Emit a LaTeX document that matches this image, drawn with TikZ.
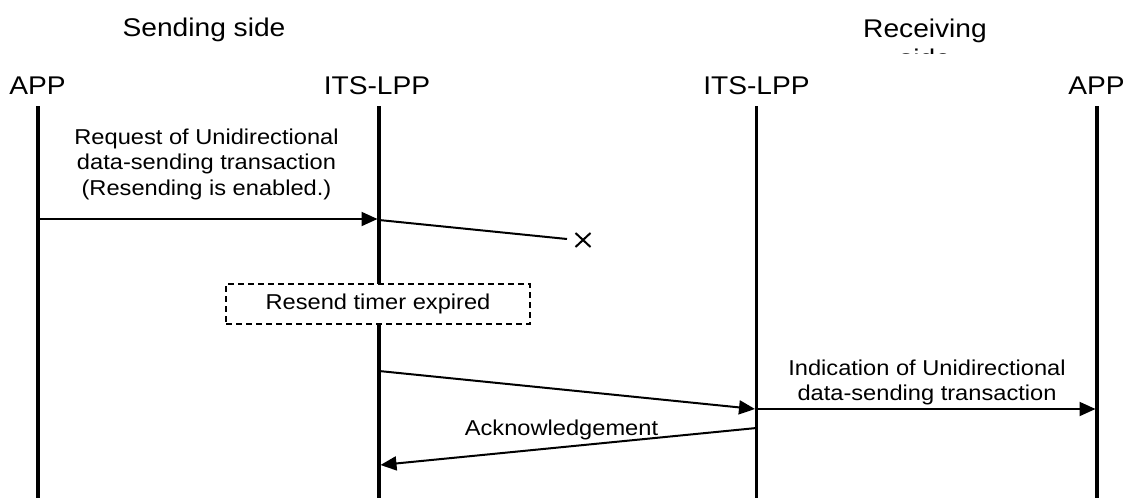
\documentclass[tikz,border=0pt]{standalone}
\usepackage{fontspec}
\setmainfont{Liberation Sans}[FakeStretch=1.1]
\usetikzlibrary{arrows.meta}
\begin{document}
\begin{tikzpicture}[x=1pt,y=-1pt,
  lifeline/.style={line width=3.8pt},
  msg/.style={line width=2pt,-{Triangle[length=16pt,width=14pt]}},
  lostline/.style={line width=2pt},
  hdr/.style={font=\fontsize{25.6}{30}\selectfont,inner sep=0pt,anchor=base},
  lbl/.style={font=\fontsize{21.5}{25.5}\selectfont,inner sep=0pt,align=center,anchor=base},
  timerbox/.style={draw,line width=1.5pt,dash pattern=on 6pt off 4pt,fill=white,
    minimum width=304pt,minimum height=40pt,inner sep=0pt,
    font=\fontsize{21.5}{25.5}\selectfont}
]
\useasboundingbox (0,0) rectangle (1130,498);

% headers
\node[hdr] (send) at (204,36) {Sending side};
\begin{scope}
  \clip (800,0) rectangle (1060,53);
  \node[hdr,align=center] (recv) at (925,67.5) {Receiving\\side};
\end{scope}
\node[hdr] (appL) at (37.5,94) {APP};
\node[hdr] (lppS) at (377,94) {ITS-LPP};
\node[hdr] (lppR) at (756.5,94) {ITS-LPP};
\node[hdr] (appR) at (1096.5,94) {APP};

% lifelines
\coordinate (aLt) at (38.3,106);  \coordinate (aLb) at (38.3,498);
\coordinate (sTt) at (379,106);   \coordinate (sTb) at (379,498);
\coordinate (rTt) at (756.5,106); \coordinate (rTb) at (756.5,498);
\coordinate (aRt) at (1097,106);  \coordinate (aRb) at (1097,498);
\draw[lifeline] (aLt) -- (aLb);
\draw[lifeline] (sTt) -- (sTb);
\draw[lifeline] (rTt) -- (rTb);
\draw[lifeline] (aRt) -- (aRb);

% message 1: request
\coordinate (m1a) at (38.3,219);
\coordinate (m1b) at (377.5,219);
\draw[msg] (m1a) -- (m1b);
\node[lbl] (l1) at (206.5,195) {Request of Unidirectional\\data-sending transaction\\(Resending is enabled.)};

% lost message
\coordinate (lo1) at (379,220);
\coordinate (lo2) at (567,239);
\draw[lostline] (lo1) -- (lo2);
\coordinate (xc) at (583,240);
\draw[lostline] ([shift={(-7.5,-7)}]xc) -- ([shift={(7.5,7)}]xc);
\draw[lostline] ([shift={(-7.5,7)}]xc) -- ([shift={(7.5,-7)}]xc);

% resend timer
\node[timerbox] (timer) at (378,304) {Resend timer expired};

% message 2: resend
\coordinate (m2a) at (379,371);
\coordinate (m2b) at (755,409);
\draw[msg] (m2a) -- (m2b);

% message 3: indication
\coordinate (m3a) at (756.5,409);
\coordinate (m3b) at (1095.5,409);
\draw[msg] (m3a) -- (m3b);
\node[lbl] (l3) at (927,400.5) {Indication of Unidirectional\\data-sending transaction};

% message 4: acknowledgement
\coordinate (m4a) at (756.5,428);
\coordinate (m4b) at (380.5,465);
\draw[msg] (m4a) -- (m4b);
\node[lbl] (l4) at (561.5,435) {Acknowledgement};
\end{tikzpicture}
\end{document}
